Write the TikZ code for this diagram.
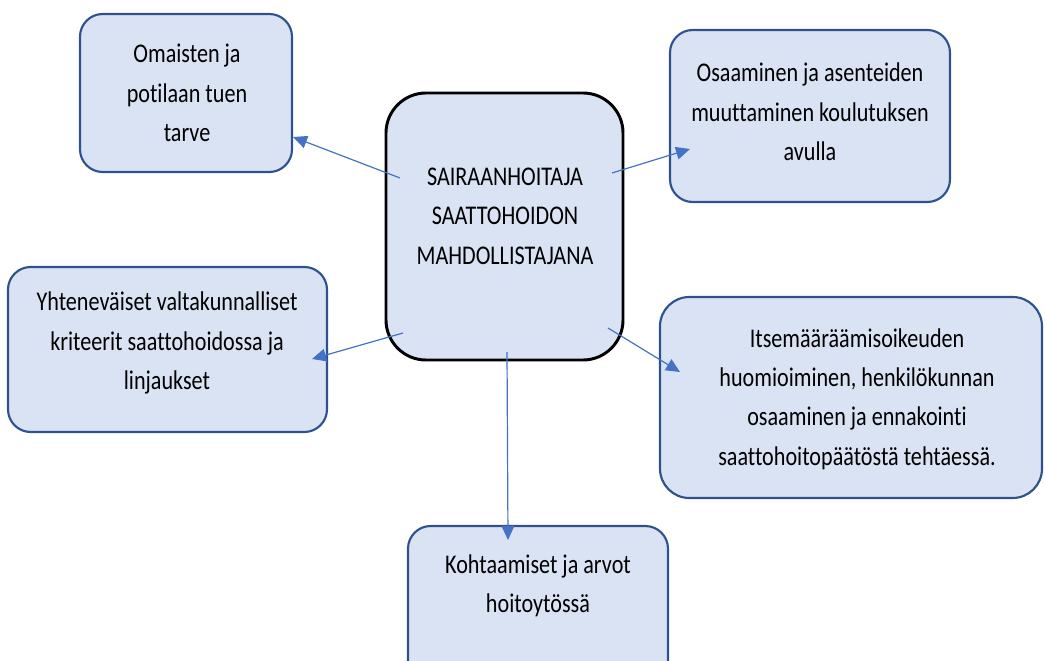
\documentclass[tikz,border=0pt]{standalone}
\usepackage{fontspec}
\setmainfont{Carlito}[FakeStretch=0.82,Ligatures=CommonOff]
\usepackage{tikz}
\usetikzlibrary{calc}
\usetikzlibrary{arrows.meta}
\definecolor{boxfill}{HTML}{DAE3F3}
\definecolor{boxline}{HTML}{2F528F}
\definecolor{arrowblue}{HTML}{4472C4}
\tikzset{
    teema/.style={draw=boxline, fill=boxfill, line width=1.6pt, rounded corners=17pt},
    keskus/.style={draw=black, fill=boxfill, line width=2.2pt, rounded corners=30pt},
    teksti/.style={align=center, text=black, font=\fontsize{20.25pt}{29.6pt}\selectfont},
    nuoli/.style={draw=arrowblue, line width=0.9pt, -{Triangle[length=10.5pt,width=9.5pt]}}
}

\begin{document}
\begin{tikzpicture}[x=0.75pt,y=-0.75pt]
\useasboundingbox (0,0) rectangle (1045,660);
\clip (0,0) rectangle (1045,660);

\node[teema, minimum width=159pt, minimum height=118.5pt] (tarve) at (186,93) {};
\node[teema, minimum width=210pt, minimum height=129pt] (osaa) at (810,116) {};
\node[teema, minimum width=239.25pt, minimum height=123.75pt] (yht) at (167.5,349.5) {};
\node[teema, minimum width=286.5pt, minimum height=150.75pt, rounded corners=22pt] (itse) at (851,397.5) {};
\node[teema, minimum width=195pt, minimum height=123pt] (koht) at (538,608) {};
\node[keskus, minimum width=177.75pt, minimum height=200.25pt] (ctr) at (504.5,226.5) {};

\node[teksti] (ttarve) at (187,93) {Omaisten ja\\potilaan tuen\\tarve};
\node[teksti] (tosaa) at (810,112) {Osaaminen ja asenteiden\\muuttaminen koulutuksen\\avulla};
\node[teksti] (tyht) at (167,343) {Yhteneväiset valtakunnalliset\\kriteerit saattohoidossa ja\\linjaukset};
\node[teksti] (titse) at (857,399) {Itsemääräämisoikeuden\\huomioiminen, henkilökunnan\\osaaminen ja ennakointi\\saattohoitopäätöstä tehtäessä.};
\node[teksti] (tkoht) at (538,586) {Kohtaamiset ja arvot\\hoitoytössä};
\node[teksti] (tctr) at (505,216) {SAIRAANHOITAJA\\SAATTOHOIDON\\MAHDOLLISTAJANA};

\coordinate (s1) at (400,178);
\coordinate (s2) at (612,173);
\coordinate (s3) at (403,333);
\coordinate (s4) at (608,328);
\coordinate (s5) at (507,352);

\coordinate (e1) at (293,137);
\coordinate (e2) at (690,149);
\coordinate (e3) at (312,359);
\coordinate (e4) at (680,372);
\coordinate (e5) at (508,540);

\draw[nuoli] (s1) -- (e1);
\draw[nuoli] (s2) -- (e2);
\draw[nuoli] (s3) -- (e3);
\draw[nuoli] (s4) -- (e4);
\draw[nuoli] (s5) -- (e5);
\end{tikzpicture}
\end{document}
